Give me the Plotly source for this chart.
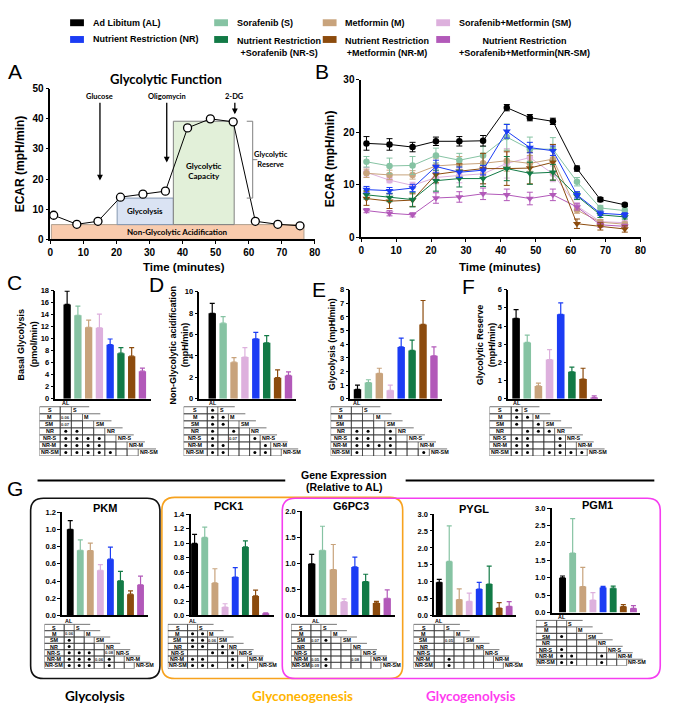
import plotly.graph_objects as go

# ======================= DATA =======================
groups = ["AL", "S", "M", "SM", "NR", "NR-S", "NR-M", "NR-SM"]
legend_labels = [
    "Ad Libitum (AL)", "Sorafenib (S)", "Metformin (M)", "Sorafenib+Metformin (SM)",
    "Nutrient Restriction (NR)", "Nutrient Restriction<br>+Sorafenib (NR-S)",
    "Nutrient Restriction<br>+Metformin (NR-M)", "Nutrient Restriction<br>+Sorafenib+Metformin(NR-SM)",
]

# Panel A (schematic)
a_time = [1.0, 8.0, 14.4, 21.2, 28.0, 34.8, 41.5, 48.4, 55.3, 62.0, 68.8, 75.5]
a_ecar = [8.0, 5.0, 6.0, 14.0, 15.0, 16.0, 37.0, 40.0, 39.0, 6.0, 5.0, 4.5]
a_injections = ["Glucose", "Oligomycin", "2-DG"]
a_injection_time = [15.0, 35.2, 55.8]
a_arrow_tip = [19.5, 25.5, 41.5]
a_phase_names = ["Non-Glycolytic Acidification", "Glycolysis", "Glycolytic<br>Capacity"]
a_phase_x0 = [0.3, 20.2, 37.2]
a_phase_x1 = [76.7, 37.2, 55.6]
a_phase_y0 = [0.0, 4.9, 4.9]
a_phase_y1 = [4.9, 13.7, 39.2]
a_reserve_span = [13.7, 39.2]

# Panel B (ECAR time course, mean and SEM)
b_time = [1.5, 8.1, 14.7, 21.4, 28.1, 34.9, 41.7, 48.3, 54.9, 61.8, 68.5, 75.5]
b_al = [17.9, 17.7, 17.2, 18.3, 18.3, 18.4, 24.7, 22.8, 22.1, 13.1, 7.2, 6.2]
b_s = [14.4, 13.6, 13.7, 15.6, 14.7, 15.6, 19.1, 16.8, 16.8, 10.6, 5.6, 5.1]
b_m = [12.2, 11.9, 11.9, 13.6, 13.9, 14.1, 14.6, 14.1, 14.9, 5.2, 2.9, 2.5]
b_sm = [12.4, 10.9, 9.9, 11.4, 11.8, 12.1, 14.1, 15.2, 12.1, 6.0, 3.0, 2.8]
b_nr = [9.1, 8.9, 9.4, 13.5, 12.4, 12.8, 20.2, 17.1, 16.5, 8.1, 4.6, 4.3]
b_nrs = [8.1, 7.6, 7.2, 10.8, 11.2, 11.2, 13.1, 12.2, 12.4, 7.9, 4.3, 3.9]
b_nrm = [7.4, 6.9, 7.1, 12.0, 12.6, 13.1, 13.1, 13.2, 14.3, 2.6, 2.1, 1.6]
b_nrsm = [5.1, 4.6, 4.3, 7.5, 7.7, 8.3, 8.1, 7.4, 8.1, 5.8, 2.4, 2.1]
b_al_err = [1.3, 1.1, 0.9, 0.8, 0.9, 1.0, 0.6, 0.6, 0.6, 0.5, 0.4, 0.3]
b_s_err = [1.0, 1.5, 1.7, 1.4, 1.3, 1.7, 2.5, 2.3, 2.2, 0.8, 0.5, 0.5]
b_m_err = [0.8, 0.9, 0.8, 1.5, 1.5, 1.9, 2.0, 1.5, 2.8, 0.6, 0.5, 0.4]
b_sm_err = [0.9, 0.5, 0.6, 1.2, 1.4, 1.9, 2.8, 1.8, 1.5, 0.6, 0.4, 0.3]
b_nr_err = [0.6, 0.6, 0.7, 1.2, 1.0, 0.9, 1.3, 1.0, 0.9, 0.6, 0.4, 0.4]
b_nrs_err = [0.8, 0.8, 1.4, 2.0, 1.6, 1.5, 2.3, 2.1, 1.5, 0.7, 0.5, 0.4]
b_nrm_err = [1.3, 1.4, 1.2, 1.6, 1.4, 2.9, 3.2, 3.0, 3.4, 0.9, 0.7, 0.6]
b_nrsm_err = [0.4, 0.5, 0.4, 1.0, 1.0, 1.1, 1.1, 1.2, 1.1, 0.6, 0.5, 0.4]

# Panels C-F (mean, upper SEM)
c_mean = [15.7, 13.9, 11.9, 11.8, 9.0, 7.6, 7.1, 4.6]
c_err = [2.2, 1.5, 1.2, 2.3, 0.95, 0.9, 1.4, 0.5]
d_mean = [7.97, 7.05, 3.42, 3.9, 5.6, 5.23, 1.97, 2.18]
d_err = [0.93, 0.61, 0.43, 0.87, 0.6, 0.67, 0.73, 0.34]
e_mean = [0.7, 1.2, 1.87, 0.63, 3.8, 3.55, 5.45, 3.15]
e_err = [0.3, 0.2, 0.37, 0.37, 0.65, 0.75, 1.75, 0.65]
f_mean = [4.42, 3.1, 0.71, 2.16, 4.64, 1.49, 1.09, 0.07]
f_err = [0.48, 0.4, 0.16, 0.54, 0.63, 0.25, 0.59, 0.09]

# Panel G gene expression (relative to AL)
pkm_mean = [1.0, 0.757, 0.753, 0.525, 0.654, 0.403, 0.247, 0.357]
pkm_err = [0.1, 0.12, 0.087, 0.065, 0.14, 0.11, 0.038, 0.1]
pck1_mean = [0.995, 1.077, 0.45, 0.117, 0.53, 0.946, 0.27, 0.03]
pck1_err = [0.125, 0.143, 0.195, 0.045, 0.13, 0.084, 0.08, 0.006]
g6pc3_mean = [0.99, 1.25, 0.88, 0.264, 0.93, 0.65, 0.24, 0.33]
g6pc3_err = [0.18, 0.46, 0.48, 0.056, 0.19, 0.14, 0.03, 0.16]
pygl_mean = [0.98, 1.6, 0.47, 0.42, 0.78, 0.93, 0.22, 0.27]
pygl_err = [0.09, 1.05, 0.32, 0.24, 0.2, 0.53, 0.16, 0.14]
pgm1_mean = [1.0, 1.71, 0.745, 0.36, 0.72, 0.7, 0.17, 0.12]
pgm1_err = [0.05, 0.99, 0.555, 0.21, 0.03, 0.06, 0.06, 0.08]

# Significance tables ("*" = significant, numbers = p value)
tab_c = [[""], ["0.06", ""], ["0.07", "", ""], ["*", "*", "", ""],
         ["*", "*", "*", "*", ""], ["*", "*", "*", "*", "", ""], ["*", "*", "*", "*", "*", "", ""]]
tab_d = [["*"], ["*", "*"], ["*", "*", ""], ["*", "", "*", ""],
         ["*", "", "0.07", "", "*"], ["*", "*", "", "", "", "*"], ["*", "*", "", "", "*", "*", ""]]
tab_e = [[""], ["", ""], ["", "", ""], ["*", "*", "", "*"],
         ["*", "*", "", "*", ""], ["*", "*", "*", "*", "", ""], ["*", "", "", "*", "", "", "*"]]
tab_f = [["*"], ["*", "*"], ["*", "", "*"], ["", "*", "*", "*"],
         ["*", "*", "", "", "*"], ["*", "*", "", "", "*", ""], ["*", "*", "", "*", "*", "*", "*"]]
tab_pkm = [[""], ["0.06", ""], ["*", "", ""], ["*", "", "", ""],
           ["*", "*", "*", "", "0.08"], ["*", "*", "*", "0.06", "*", ""], ["*", "*", "*", "", "*", "", ""]]
tab_pck1 = [[""], ["*", "*"], ["*", "*", "0.06"], ["*", "*", "", "*"],
            ["", "", "*", "*", "*"], ["*", "*", "", "", "*", ""], ["*", "*", "*", "", "*", "*", ""]]
tab_g6pc3 = [[""], ["", ""], ["0.07", "*", ""], ["", "", "", ""],
             ["", "", "", "", ""], ["0.05", "*", "", "", "0.08", ""], ["0.09", "*", "", "", "", "", ""]]
tab_pygl = [[""], ["", ""], ["", "0.05", ""], ["", "", "", ""],
            ["", "", "", "", ""], ["", "*", "", "", "", ""], ["", "*", "", "", "", "", ""]]
tab_pgm1 = [[""], ["", ""], ["*", "", ""], ["", "", "", ""],
            ["*", "", "", "", ""], ["*", "*", "", "", "*", ""], ["*", "*", "", "", "*", "", ""]]

# ======================= STYLE / LAYOUT =======================
W, H = 685, 716
FONT = "Liberation Sans"
FONT2 = "Lato"
colors = ["#000000", "#86c3a3", "#c8a37c", "#ddb0dd", "#1b3cf4", "#127a46", "#8c4b0d", "#b259b9"]
symbols = ["circle"] * 4 + ["triangle-down"] * 4

fig = go.Figure()
shapes, annos = [], []
axis_n = [0]


def px(x):
    return x / W


def py(y):
    return 1 - y / H


def TF(size):
    return dict(family=FONT, size=size, color="black", weight="bold")


AX = dict(showline=True, linecolor="black", linewidth=1.5, ticks="outside", ticklen=3,
          tickwidth=1.2, tickcolor="black", showgrid=False, zeroline=False, fixedrange=True)


def add_axes(x0, x1, ytop, ybot, xr, yr, xkw=None, ykw=None, hidden=False):
    axis_n[0] += 1
    s = "" if axis_n[0] == 1 else str(axis_n[0])
    if hidden:
        xa, ya = dict(visible=False, fixedrange=True), dict(visible=False, fixedrange=True)
    else:
        xa, ya = dict(AX), dict(AX)
    xa.update(domain=[px(x0), px(x1)], range=xr, anchor="y" + s)
    ya.update(domain=[py(ybot), py(ytop)], range=yr, anchor="x" + s)
    if xkw:
        xa.update(xkw)
    if ykw:
        ya.update(ykw)
    fig.update_layout({"xaxis" + s: xa, "yaxis" + s: ya})
    return "x" + s, "y" + s


def text(x, y, t, size, bold=True, family=FONT, color="black", angle=0, xanchor="center", yanchor="middle"):
    annos.append(dict(xref="paper", yref="paper", x=px(x), y=py(y), text=t, showarrow=False,
                      xanchor=xanchor, yanchor=yanchor, textangle=angle,
                      font=dict(family=family, size=size, color=color, weight="bold" if bold else "normal")))


# ---------------- Legend ----------------
leg_x = [68, 214, 324, 439]
leg_y = [17, 34]
for k, lab in enumerate(legend_labels):
    r, c = divmod(k, 4)
    x0 = leg_x[c]
    y = leg_y[r]
    shapes.append(dict(type="rect", xref="paper", yref="paper", x0=px(x0), x1=px(x0 + 14),
                       y0=py(y + 3.5), y1=py(y - 3.5), fillcolor=colors[k], line=dict(width=0)))
    if "<br>" in lab:
        text(x0 + 21, y - 6, lab, 9, xanchor="left", yanchor="top")
    else:
        text(x0 + 21, y, lab, 9, xanchor="left")

# ---------------- Panel letters ----------------
for L, (lx, ly) in zip("ABCDEFG", [(12, 67), (323, 67), (12, 281), (156, 283), (320, 288), (472, 285), (12, 490)]):
    text(lx, ly, L, 21, bold=False)

# ---------------- Panel A ----------------
xa, ya = add_axes(48, 316, 84, 237, [0, 80], [0, 50],
                  xkw=dict(dtick=10, tickfont=TF(10)), ykw=dict(dtick=10, tickfont=TF(10)))
fills = ["#f8cbad", "#dae3f3", "#e2f0d9"]
edges = ["#b0a090", "#8497b0", "#808080"]
for k in range(3):
    shapes.append(dict(type="rect", xref=xa, yref=ya, x0=a_phase_x0[k], x1=a_phase_x1[k],
                       y0=a_phase_y0[k], y1=a_phase_y1[k], fillcolor=fills[k],
                       line=dict(color=edges[k], width=1), layer="below"))
    annos.append(dict(xref=xa, yref=ya, x=(a_phase_x0[k] + a_phase_x1[k]) / 2,
                      y=(a_phase_y0[k] + a_phase_y1[k]) / 2 + (0 if k < 2 else 0.5),
                      text=a_phase_names[k], showarrow=False,
                      font=dict(family=FONT2, size=8, color="black", weight="bold")))
# bracket for glycolytic reserve
bx = 61.2
shapes.append(dict(type="path", xref=xa, yref=ya,
                   path=f"M 59.4,{a_reserve_span[1]} L {bx},{a_reserve_span[1]} L {bx},{a_reserve_span[0]} L 59.4,{a_reserve_span[0]} "
                        f"M {bx},{sum(a_reserve_span) / 2} L 62.6,{sum(a_reserve_span) / 2}",
                   line=dict(color="#808080", width=1)))
annos.append(dict(xref=xa, yref=ya, x=66.6, y=sum(a_reserve_span) / 2, text="Glycolytic<br>Reserve",
                  showarrow=False, font=dict(family=FONT2, size=7.5, color="black", weight="bold")))
for name, t, tip in zip(a_injections, a_injection_time, a_arrow_tip):
    annos.append(dict(xref=xa, yref=ya, axref=xa, ayref=ya, x=t, y=tip, ax=t, ay=47.3, text=name,
                      showarrow=True, arrowhead=2, arrowsize=0.9, arrowwidth=1.3, arrowcolor="black",
                      font=dict(family=FONT2, size=7.5, color="black", weight="bold")))
fig.add_trace(go.Scatter(x=a_time, y=a_ecar, xaxis=xa, yaxis=ya, mode="lines+markers",
                         line=dict(color="black", width=1),
                         marker=dict(symbol="circle", size=8, color="white", line=dict(color="black", width=1.3)),
                         cliponaxis=False, showlegend=False, hoverinfo="skip"))
text(165, 74, "Glycolytic Function", 13, family=FONT2)
text(17, 160, "ECAR (mpH/min)", 12, angle=-90)
text(183, 265, "Time (minutes)", 11.5)

# ---------------- Panel B ----------------
xb, yb = add_axes(363, 646, 75, 235, [0, 80], [0, 30],
                  xkw=dict(dtick=10, tickfont=TF(10)), ykw=dict(dtick=10, tickfont=TF(10)))
b_means = [b_al, b_s, b_m, b_sm, b_nr, b_nrs, b_nrm, b_nrsm]
b_errs = [b_al_err, b_s_err, b_m_err, b_sm_err, b_nr_err, b_nrs_err, b_nrm_err, b_nrsm_err]
for k in [3, 2, 1, 7, 6, 5, 4, 0]:
    fig.add_trace(go.Scatter(x=b_time, y=b_means[k], xaxis=xb, yaxis=yb, mode="lines+markers",
                             line=dict(color=colors[k], width=1),
                             marker=dict(symbol=symbols[k], size=6.5 if k < 4 else 7, color=colors[k]),
                             error_y=dict(type="data", array=b_errs[k], color=colors[k], thickness=1, width=3),
                             cliponaxis=False, showlegend=False, hoverinfo="skip"))
text(331, 155, "ECAR (mpH/min)", 12, angle=-90)
text(504, 265, "Time (minutes)", 11.5)


# ---------------- Bar panels ----------------
def bar_panel(mean, err, geom, xr, yr, dtick, fmt, fs):
    x0, x1, yt, ybt = geom
    xa_, ya_ = add_axes(x0, x1, yt, ybt, xr, yr, xkw=dict(showticklabels=False, ticks=""),
                        ykw=dict(dtick=dtick, tickformat=fmt, tickfont=TF(fs)))
    for i in range(len(groups)):
        fig.add_trace(go.Bar(x=[i], y=[mean[i]], width=0.68, xaxis=xa_, yaxis=ya_,
                             marker=dict(color=colors[i], line=dict(width=0)),
                             error_y=dict(type="data", symmetric=False, array=[err[i]], arrayminus=[0],
                                          color=colors[i], thickness=1.2, width=2.5),
                             showlegend=False, hoverinfo="skip"))


bar_panel(c_mean, c_err, (53, 150, 289, 399), [-1.1, 7.8], [0, 18], 2, "d", 7.5)
bar_panel(d_mean, d_err, (199, 297, 290, 399), [-1.18, 7.7], [0, 10], 2, "d", 7.5)
bar_panel(e_mean, e_err, (352, 445, 288, 399), [-0.65, 7.75], [0, 8], 1, "d", 7.5)
bar_panel(f_mean, f_err, (512, 607, 288, 399), [-0.7, 7.7], [0, 6], 1, "d", 7.5)

text(18, 344, "Basal Glycolysis", 9, angle=-90)
text(31, 344, "(pmol/min)", 9, angle=-90)
text(172, 344, "Non-Glycolytic acidification", 9, angle=-90)
text(184, 344, "(mpH/min)", 9, angle=-90)
text(333, 344, "Glycolysis (mpH/min)", 9, angle=-90)
text(483, 344, "Glycolytic Reserve", 9, angle=-90)
text(495, 344, "(mpH/min)", 9, angle=-90)

bar_panel(pkm_mean, pkm_err, (60, 147, 514, 619), [-0.8, 7.75], [0, 1.2], 0.2, ".1f", 7.5)
bar_panel(pck1_mean, pck1_err, (190, 275, 516, 619), [-0.4, 7.85], [0, 1.4], 0.2, ".1f", 7.5)
bar_panel(g6pc3_mean, g6pc3_err, (303, 397, 513, 619), [-0.9, 7.7], [0, 2.0], 0.5, ".1f", 7.5)
bar_panel(pygl_mean, pygl_err, (437, 520, 516, 619), [-0.5, 7.7], [0, 3.0], 0.5, ".1f", 7.5)
bar_panel(pgm1_mean, pgm1_err, (556, 645, 510, 616), [-1.07, 7.6], [0, 3.0], 0.5, ".1f", 7.5)
for t, x, y in [("PKM", 103, 510), ("PCK1", 228, 508), ("G6PC3", 353, 508), ("PYGL", 477, 511), ("PGM1", 602, 507)]:
    text(x, y, t, 11)


# ---------------- Significance tables ----------------
def table(cells, geom):
    xlab, x0, x1, ytop, ybot = geom
    cw = (x1 - x0) / 7.0
    rh = (ybot - ytop) / 7.0
    wl = (x0 - xlab) / cw
    extra = 2.6
    # axis spans label column, the 7 cells, trailing labels and the header row
    xt, yt = add_axes(xlab, x1 + extra * cw, ytop - rh, ybot, [-wl, 7 + extra], [7, -1], hidden=True)
    ln = dict(color="#3a3a3a", width=0.7)
    f_lab = dict(family=FONT, size=5.4, color="black", weight="bold")
    dot_x, dot_y = [], []
    for i, row in enumerate(cells):
        shapes.append(dict(type="rect", xref=xt, yref=yt, x0=-wl, x1=0, y0=i, y1=i + 1, line=ln))
        annos.append(dict(xref=xt, yref=yt, x=-wl / 2, y=i + 0.5, text=groups[i + 1], showarrow=False,
                          font=f_lab, borderpad=0))
        for j, v in enumerate(row):
            shapes.append(dict(type="rect", xref=xt, yref=yt, x0=j, x1=j + 1, y0=i, y1=i + 1, line=ln))
            if v == "*":
                dot_x.append(j + 0.5)
                dot_y.append(i + 0.5)
            elif v:
                annos.append(dict(xref=xt, yref=yt, x=j + 0.5, y=i + 0.5, text=v, showarrow=False, borderpad=0,
                                  font=dict(family=FONT, size=4.2, color="#333333", weight="bold")))
        shapes.append(dict(type="line", xref=xt, yref=yt, x0=i + 1, x1=i + 2.6, y0=i, y1=i, line=ln))
        annos.append(dict(xref=xt, yref=yt, x=i + 1.08, y=i + 0.5, text=groups[i + 1], showarrow=False,
                          xanchor="left", font=f_lab, borderpad=0))
    annos.append(dict(xref=xt, yref=yt, x=0.5, y=-0.55, text="AL", showarrow=False, font=f_lab, borderpad=0))
    fig.add_trace(go.Scatter(x=dot_x, y=dot_y, xaxis=xt, yaxis=yt, mode="markers",
                             marker=dict(size=3, color="black"), cliponaxis=False,
                             showlegend=False, hoverinfo="skip"))


table(tab_c, (37, 58, 137, 407, 457))
table(tab_d, (183, 207, 282, 407, 457))
table(tab_e, (332, 353, 432, 407, 457))
table(tab_f, (493, 515, 592, 407, 457))
table(tab_pkm, (42, 62, 133, 628, 673))
table(tab_pck1, (167, 187, 258, 628, 673))
table(tab_g6pc3, (292, 312, 383, 628, 673))
table(tab_pygl, (416, 437, 507, 628, 673))
table(tab_pgm1, (540, 561, 632, 624, 670))

# ---------------- Section G header & boxes ----------------
for x0, x1 in [(35, 286), (408, 660)]:
    shapes.append(dict(type="line", xref="paper", yref="paper", x0=px(x0), x1=px(x1), y0=py(482), y1=py(482),
                       line=dict(color="black", width=2)))
text(346, 476, "Gene Expression", 10.5)
text(346, 489, "(Relative to AL)", 10.5)


def rounded(x0, y0, x1, y1, r):
    return (f"M {px(x0 + r)},{py(y0)} L {px(x1 - r)},{py(y0)} Q {px(x1)},{py(y0)} {px(x1)},{py(y0 + r)} "
            f"L {px(x1)},{py(y1 - r)} Q {px(x1)},{py(y1)} {px(x1 - r)},{py(y1)} "
            f"L {px(x0 + r)},{py(y1)} Q {px(x0)},{py(y1)} {px(x0)},{py(y1 - r)} "
            f"L {px(x0)},{py(y0 + r)} Q {px(x0)},{py(y0)} {px(x0 + r)},{py(y0)} Z")


for (x0, y0, x1, y1), col in [((28, 500, 159, 683), "#111111"), ((161, 499, 405, 683), "#f7a21e"),
                              ((283, 500, 666, 683), "#f53df0")]:
    shapes.append(dict(type="path", xref="paper", yref="paper", path=rounded(x0, y0, x1, y1, 13),
                       line=dict(color=col, width=1.6)))
text(93, 701, "Glycolysis", 13.5, family=FONT2)
text(303, 701, "Glyconeogenesis", 13.5, family=FONT2, color="#ffb400")
text(474, 701, "Glycogenolysis", 13.5, family=FONT2, color="#ff3cf0")

fig.update_layout(width=W, height=H, margin=dict(l=0, r=0, t=0, b=0), paper_bgcolor="white",
                  plot_bgcolor="rgba(0,0,0,0)", barmode="overlay", showlegend=False,
                  shapes=shapes, annotations=annos)
fig.write_html("out.html")
